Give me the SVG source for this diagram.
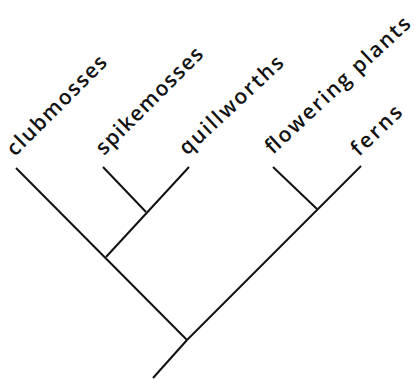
<svg xmlns="http://www.w3.org/2000/svg" width="415" height="379" viewBox="0 0 415 379">
<style>
.br{stroke:#111;stroke-width:2;fill:none;stroke-linecap:butt}
.lb{font-family:"Open Sans","DejaVu Sans",sans-serif;font-size:21px;font-weight:600;fill:#111}
</style>
<rect width="415" height="379" fill="#fff"/>
<g id="connectors">
<line class="br" x1="16" y1="168" x2="187" y2="340"/>
<line class="br" x1="187" y1="340" x2="153" y2="378"/>
<line class="br" x1="187" y1="340" x2="361" y2="166"/>
<line class="br" x1="317" y1="209" x2="273" y2="167"/>
<line class="br" x1="106" y1="257" x2="189" y2="167"/>
<line class="br" x1="146" y1="212" x2="103" y2="167"/>
</g>
<g id="clubmosses"><text class="lb" transform="translate(15,157) rotate(-45)" textLength="132">clubmosses</text></g>
<g id="spikemosses"><text class="lb" transform="translate(104,156) rotate(-45)" textLength="142">spikemosses</text></g>
<g id="quillworths"><text class="lb" transform="translate(187,156) rotate(-43)" textLength="134">quillworths</text></g>
<g id="flowering-plants"><text class="lb" transform="translate(273,155) rotate(-43)" textLength="190">flowering plants</text></g>
<g id="ferns"><text class="lb" transform="translate(359,157) rotate(-44)" textLength="62">ferns</text></g>
</svg>
